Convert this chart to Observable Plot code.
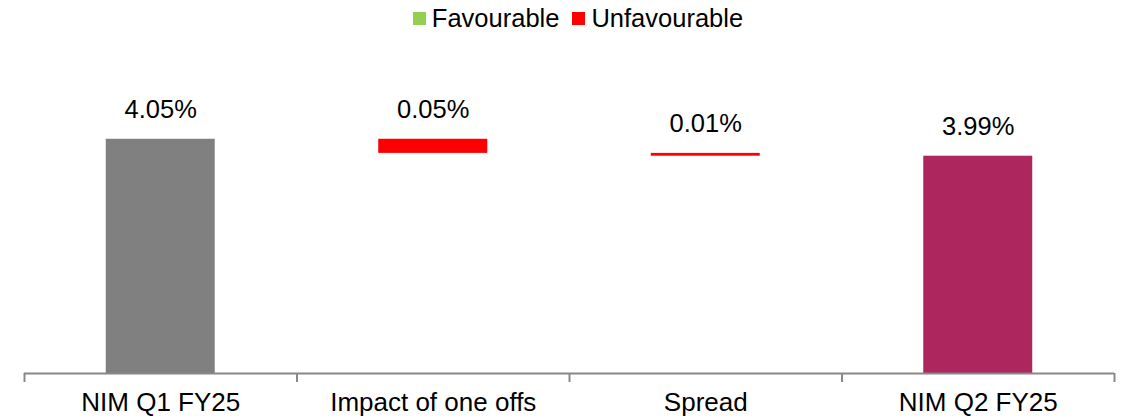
<!DOCTYPE html>
<html>
<head>
<meta charset="utf-8">
<script src="https://cdn.jsdelivr.net/npm/d3@7"></script>
<script src="https://cdn.jsdelivr.net/npm/@observablehq/plot@0.6"></script>
<style>
  html, body { margin: 0; padding: 0; background: #fff; }
  body { width: 1139px; height: 419px; overflow: hidden; font-family: "Liberation Sans", Arial, sans-serif; }
  #legend { height: 36px; display: flex; justify-content: center; align-items: center; padding-left: 17px; font-size: 25.5px; color: #000; }
  .item { display: flex; align-items: center; }
  .sw { width: 13px; height: 13px; display: inline-block; margin-right: 6px; }
  .item + .item { margin-left: 13px; }
</style>
</head>
<body>
<div id="legend"></div>
<div id="chart"></div>
<script>
const categories = ["NIM Q1 FY25", "Impact of one offs", "Spread", "NIM Q2 FY25"];
const values = [4.05, -0.05, -0.01, 3.99];
const kinds = ["total", "change", "change", "total"];
const labels = ["4.05%", "0.05%", "0.01%", "3.99%"];
const legendNames = ["Favourable", "Unfavourable"];
const legendColors = ["#92D050", "#FF0000"];
const barColors = { first: "#808080", last: "#AD275E", Favourable: "#92D050", Unfavourable: "#FF0000" };

const yMin = 3.22, yMax = 4.4;

// build waterfall rows
let running = 0;
const rows = categories.map((c, i) => {
  let y1, y2, color;
  if (kinds[i] === "total") {
    y1 = yMin; y2 = values[i]; running = values[i];
    color = i === 0 ? barColors.first : barColors.last;
  } else {
    y1 = running; y2 = running + values[i]; running = y2;
    color = values[i] >= 0 ? barColors.Favourable : barColors.Unfavourable;
  }
  return { i, category: c, y1, y2, top: Math.max(y1, y2), color, label: labels[i] };
});

// legend
const legend = document.getElementById("legend");
legendNames.forEach((n, k) => {
  const it = document.createElement("span");
  it.className = "item";
  const sw = document.createElement("span");
  sw.className = "sw";
  sw.style.background = legendColors[k];
  it.appendChild(sw);
  it.appendChild(document.createTextNode(n));
  legend.appendChild(it);
});

const chart = Plot.plot({
  width: 1139,
  height: 383,
  marginLeft: 24,
  marginRight: 25,
  marginTop: 4,
  marginBottom: 46,
  style: { fontFamily: "'Liberation Sans', Arial, sans-serif", background: "#fff" },
  x: { domain: [0, categories.length], axis: null },
  y: { domain: [yMin, yMax], axis: null },
  marks: [
    Plot.rectY(rows, {
      x1: d => d.i + 0.3,
      x2: d => d.i + 0.7,
      y1: "y1",
      y2: "y2",
      fill: "color"
    }),
    Plot.text(rows, {
      x: d => d.i + 0.5,
      y: "top",
      text: "label",
      lineAnchor: "bottom",
      dy: -21,
      fontSize: 25.5,
      fill: "#000"
    }),
    Plot.ruleY([yMin], { stroke: "#888888", strokeWidth: 2 }),
    Plot.axisX(d3.range(categories.length + 1), {
      tickFormat: () => "",
      tickSize: 9,
      stroke: "#888888",
      strokeWidth: 2,
      y: yMin
    }),
    Plot.text(rows, {
      x: d => d.i + 0.5,
      y: yMin,
      text: "category",
      lineAnchor: "bottom",
      dy: 37,
      fontSize: 26,
      fill: "#000"
    })
  ]
});
document.getElementById("chart").appendChild(chart);
</script>
</body>
</html>
